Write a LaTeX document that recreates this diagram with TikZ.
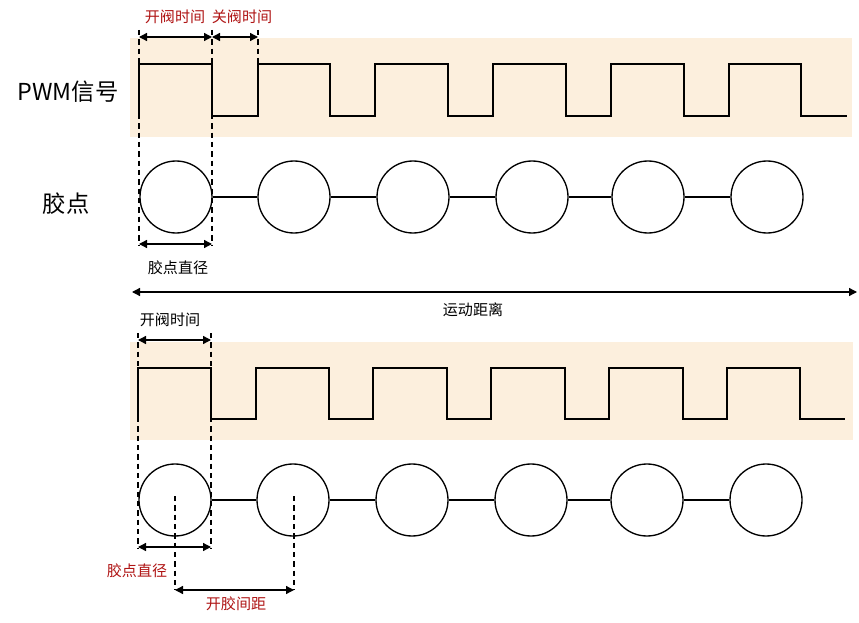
\documentclass[tikz,border=0pt]{standalone}
\usepackage{fontspec}
\setmainfont{Noto Sans CJK SC}
\usetikzlibrary{arrows.meta}
\definecolor{band}{RGB}{252,239,221}
\definecolor{lab}{RGB}{175,20,20}
\begin{document}
\begin{tikzpicture}[x=0.75pt,y=-0.75pt,
  sig/.style={line width=1.5pt},
  dot/.style={circle,draw,line width=1pt,minimum size=54pt,inner sep=0pt},
  link/.style={line width=1pt},
  dashline/.style={line width=0.9pt,dash pattern=on 4pt off 3pt},
  dim/.style={{Triangle[length=6pt,width=6pt]}-{Triangle[length=6pt,width=6pt]},line width=1pt},
  small/.style={font=\fontsize{11.3pt}{13pt}\selectfont},
  big/.style={font=\fontsize{17.5pt}{20pt}\selectfont}]
\useasboundingbox (0,0) rectangle (859,623);
\fill[band] (130,38) rectangle (852,137);
\fill[band] (130,342) rectangle (853,440);
% top signal
\draw[sig] (139,116) -- (139,64) -- (212,64) -- (212,116) -- (258,116)
 -- (258,64) -- (330,64) -- (330,116) -- (375,116) -- (375,64) -- (448,64) -- (448,116)
 -- (493,116) -- (493,64) -- (566,64) -- (566,116) -- (611,116) -- (611,64) -- (684,64)
 -- (684,116) -- (729,116) -- (729,64) -- (801,64) -- (801,116) -- (847,116);
% bottom signal
\draw[sig] (138,419) -- (138,368) -- (211,368) -- (211,419) -- (256,419)
 -- (256,368) -- (329,368) -- (329,419) -- (373,419) -- (373,368) -- (447,368) -- (447,419)
 -- (491,419) -- (491,368) -- (565,368) -- (565,419) -- (609,419) -- (609,368) -- (683,368)
 -- (683,419) -- (727,419) -- (727,368) -- (800,368) -- (800,419) -- (845,419);
% dots
\foreach \i/\x in {1/176,2/294,3/413,4/532,5/648,6/767} \node[dot] (t\i) at (\x,197) {};
\foreach \i/\x in {1/175,2/293,3/412,4/531,5/647,6/766} \node[dot] (b\i) at (\x,500) {};
\foreach \a/\b in {1/2,2/3,3/4,4/5,5/6} {\draw[link] (t\a) -- (t\b); \draw[link] (b\a) -- (b\b);}
% labels
\node[big] (lp) at (68,92) {PWM信号};
\node[big] (ld) at (66,204) {胶点};
% top dims
\coordinate (a1) at (139,30); \coordinate (a2) at (139,245);
\coordinate (c1) at (212,30); \coordinate (c2) at (212,245);
\coordinate (d1) at (258,30); \coordinate (d2) at (258,64);
\draw[dashline] (a1) -- (a2); \draw[dashline] (c1) -- (c2); \draw[dashline] (d1) -- (d2);
\draw[dim] (139,37) -- (212,37);
\draw[dim] (212,37) -- (258,37);
\node[small,text=lab] (k1) at (175,17) {开阀时间};
\node[small,text=lab] (k2) at (242,17) {关阀时间};
\draw[dim] (139,244) -- (212,244);
\node[small] (k3) at (178,268) {胶点直径};
\draw[dim] (132,292) -- (857,292);
\node[small] (k4) at (473,310) {运动距离};
% bottom dims
\coordinate (e1) at (138,333); \coordinate (e2) at (138,548);
\coordinate (f1) at (211,333); \coordinate (f2) at (211,548);
\draw[dashline] (e1) -- (e2); \draw[dashline] (f1) -- (f2);
\draw[dim] (138,340) -- (211,340);
\node[small] (k5) at (170,320) {开阀时间};
\draw[dim] (138,547) -- (211,547);
\node[small,text=lab] (k6) at (137,571) {胶点直径};
\draw[dashline] (175,496) -- (175,590);
\draw[dashline] (294,496) -- (294,590);
\draw[dim] (175,590) -- (294,590);
\node[small,text=lab] (k7) at (236,604) {开胶间距};
\end{tikzpicture}
\end{document}
